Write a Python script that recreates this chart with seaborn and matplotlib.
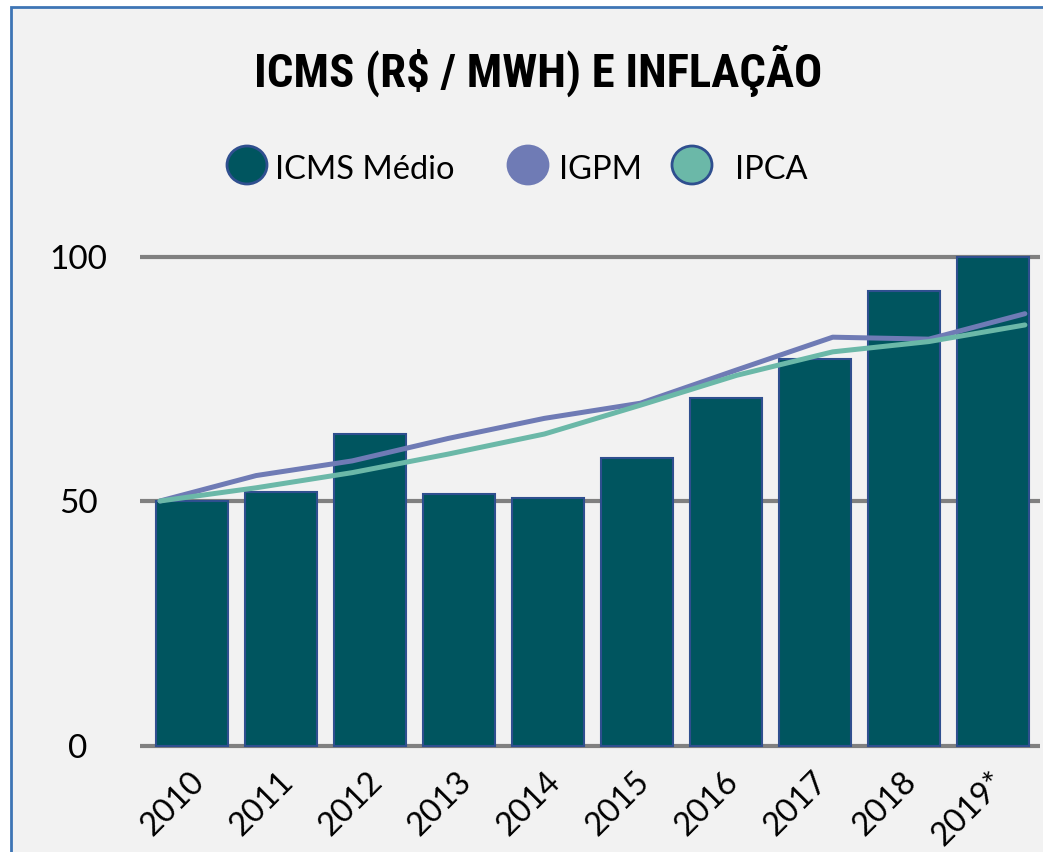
import numpy as np
import pandas as pd
import matplotlib
matplotlib.use("Agg")
import matplotlib.pyplot as plt
import seaborn as sns
from matplotlib.patches import Rectangle, Ellipse
from matplotlib import transforms, font_manager

# ---------------- data ----------------
years = ["2010", "2011", "2012", "2013", "2014", "2015", "2016", "2017", "2018", "2019*"]
icms = [50.0, 51.8, 63.8, 51.5, 50.6, 58.8, 71.0, 79.1, 93.0, 100.0]
igpm = [50.0, 55.2, 58.2, 62.8, 66.9, 70.0, 76.8, 83.5, 83.1, 88.3]
ipca = [50.0, 52.7, 55.8, 59.6, 63.7, 69.6, 75.7, 80.5, 82.6, 86.0]
yticks = [0, 50, 100]
title = r"ICMS (R\$ / MWH) E INFLAÇÃO"
legend_labels = ["ICMS Médio", "IGPM", "IPCA"]

# ---------------- style ----------------
sns.set_style("white")
ttf = font_manager.fontManager.ttflist
names = {f.name for f in ttf}


def has_bold(name):
    for f in ttf:
        if f.name == name:
            w = f.weight
            if (isinstance(w, (int, float)) and w >= 700) or str(w).lower() in ("bold", "heavy", "black", "700", "800", "900"):
                return True
    return False


prefs = ["Archivo Narrow", "Roboto Condensed", "PT Sans Narrow", "IBM Plex Sans Condensed",
         "Fira Sans Condensed", "Barlow Semi Condensed", "Encode Sans Condensed",
         "Asap Condensed", "Open Sans Condensed", "Cabin Condensed"]
title_font = "Liberation Sans"
for p in prefs:
    if p in names and has_bold(p):
        title_font = p
        break
body_font = "Lato" if "Lato" in names else "DejaVu Sans"
plt.rcParams["font.family"] = [body_font, "DejaVu Sans"]

bar_c = "#00555F"
edge_c = "#2F4F8F"
igpm_c = "#6F7BB5"
ipca_c = "#6BB8A8"
grid_c = "#808080"
border_c = "#3E75B5"
panel_c = "#F2F2F2"

W, H = 1043, 852
fig = plt.figure(figsize=(W / 100, H / 100), dpi=100)
fig.patch.set_facecolor("white")
ident = transforms.IdentityTransform()
fig.add_artist(Rectangle((11, -20), 1200, H - 7 + 20, transform=ident,
                         facecolor=panel_c, edgecolor=border_c, linewidth=2, zorder=0))

# axes: y 0 -> px 745.5, 100 -> px 256.5
s = 4.89
y0px = 745.5
ylo, yhi = -1.0, 101.0
bot_px = y0px + (0 - ylo) * s
top_px = y0px - yhi * s
ax = fig.add_axes([140 / W, (H - bot_px) / H, 900 / W, (bot_px - top_px) / H])
ax.set_facecolor("none")

sns.barplot(x=years, y=icms, ax=ax, color=bar_c, edgecolor=edge_c, linewidth=1.5,
            width=0.8, saturation=1, zorder=2)
x0 = -52 / 89.0
ax.set_xlim(x0, x0 + 900 / 89.0)
ax.set_ylim(ylo, yhi)
ax.set_yticks(yticks)
ax.set_yticklabels([str(v) for v in yticks])
ax.grid(axis="y", color=grid_c, linewidth=3)
ax.grid(axis="x", visible=False)
ax.set_axisbelow(True)
for sp in ax.spines.values():
    sp.set_visible(False)
ax.set_xlabel("")
ax.set_ylabel("")

ax.tick_params(axis="y", length=0, pad=44.6, labelsize=24, labelcolor="black")
for lbl in ax.get_yticklabels():
    lbl.set_horizontalalignment("center")

ax.tick_params(axis="x", length=0, pad=19, labelsize=23.5, labelcolor="black")
off = transforms.ScaledTranslation(0.08, 0, fig.dpi_scale_trans)
for lbl in ax.get_xticklabels():
    lbl.set_rotation(45)
    lbl.set_rotation_mode("anchor")
    lbl.set_horizontalalignment("right")
    lbl.set_verticalalignment("center")
    lbl.set_transform(lbl.get_transform() + off)

# lines on a twin x-axis (spread wider than bars, as in reference)
ax2 = ax.twiny()
idx = np.arange(len(years))
sns.lineplot(x=idx, y=igpm, ax=ax2, color=igpm_c, linewidth=3.6, zorder=3)
sns.lineplot(x=idx, y=ipca, ax=ax2, color=ipca_c, linewidth=3.6, zorder=4)
x2 = -20 / 96.1
ax2.set_xlim(x2, x2 + 900 / 96.1)
ax2.set_ylim(ylo, yhi)
ax2.set_xticks([])
ax2.set_xlabel("")
ax2.set_ylabel("")
for sp in ax2.spines.values():
    sp.set_visible(False)
for ln in ax2.get_lines():
    ln.set_solid_joinstyle("round")

# title: fit to reference width (567 px)
t = fig.text(538 / W, (H - 87) / H, title, ha="center", va="baseline",
             fontsize=33.5, fontweight="bold",
             family=[title_font, "DejaVu Sans"], color="black")
fig.canvas.draw()
wpx = t.get_window_extent().width
t.set_fontsize(min(37.0, 33.5 * 567 / wpx))

# legend (manual)
leg = [(247, bar_c, edge_c, 275), (528, igpm_c, igpm_c, 559), (692, ipca_c, edge_c, 735)]
for (cx, fc, ec, tx), lab in zip(leg, legend_labels):
    fig.add_artist(Ellipse((cx, H - 165), 40, 38, transform=ident,
                           facecolor=fc, edgecolor=ec, linewidth=2, zorder=5))
    fig.text(tx / W, (H - 179) / H, lab, ha="left", va="baseline", fontsize=23.5, color="black")

fig.savefig("out.png", dpi=100)
